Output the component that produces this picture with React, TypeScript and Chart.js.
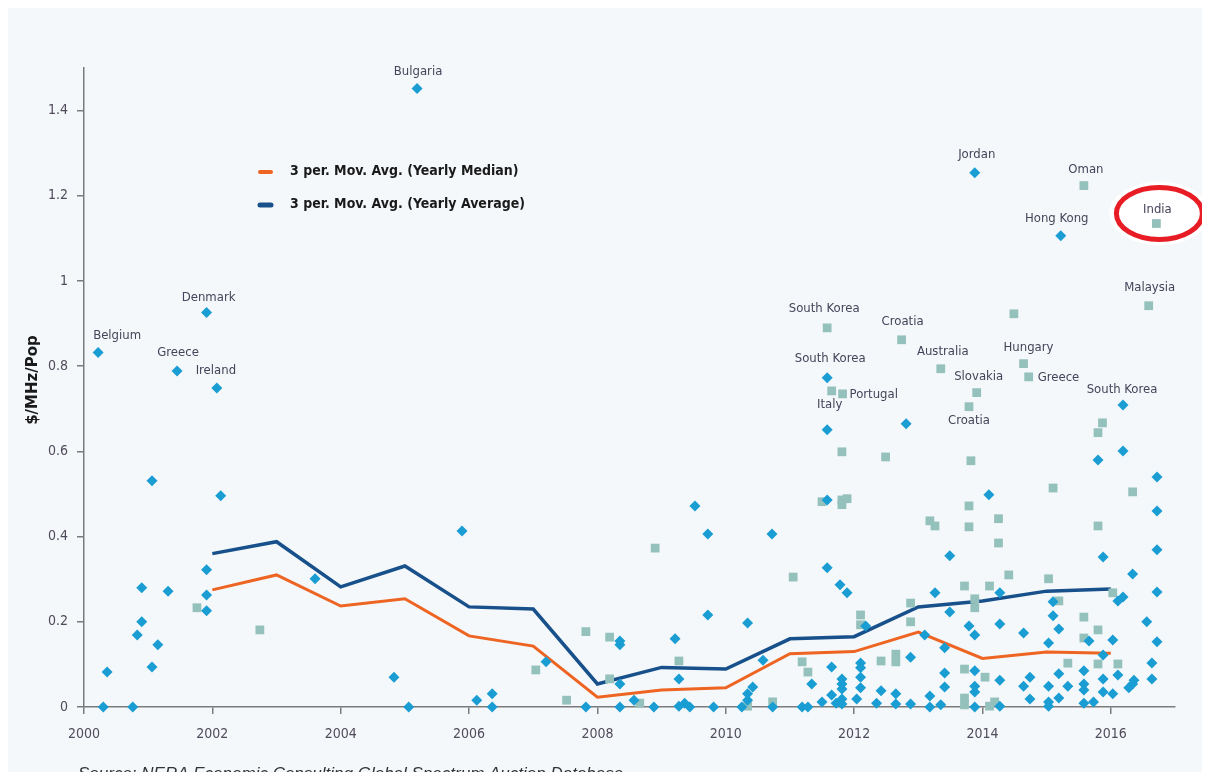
import React, { useEffect, useRef } from 'react';
import { Chart, registerables } from 'chart.js';

Chart.register(...registerables);

// ---------- data ----------
const yearTicks = [2000, 2002, 2004, 2006, 2008, 2010, 2012, 2014, 2016];
const valueTicks = [0, 0.2, 0.4, 0.6, 0.8, 1, 1.2, 1.4];
const valueTickLabels = ['0', '0.2', '0.4', '0.6', '0.8', '1', '1.2', '1.4'];

const lineYears = [2002, 2003, 2004, 2005, 2006, 2007, 2008, 2009, 2010, 2011, 2012, 2013, 2014, 2015, 2016];
const medianMovAvg = [0.275, 0.31, 0.237, 0.254, 0.167, 0.143, 0.023, 0.04, 0.045, 0.125, 0.13, 0.176, 0.114, 0.129, 0.126];
const averageMovAvg = [0.36, 0.388, 0.282, 0.331, 0.235, 0.23, 0.054, 0.093, 0.089, 0.16, 0.165, 0.235, 0.249, 0.272, 0.277];

const auctionDiamonds: [number, number][] = [
  [2000.22, 0.832], [2000.36, 0.082], [2000.3, 0], [2000.76, 0], [2000.83, 0.169], [2000.9, 0.2],
  [2000.9, 0.28], [2001.06, 0.531], [2001.06, 0.094], [2001.15, 0.146], [2001.45, 0.789], [2001.31, 0.272],
  [2001.91, 0.926], [2001.91, 0.322], [2001.91, 0.263], [2001.91, 0.226], [2002.07, 0.749], [2002.13, 0.496],
  [2003.6, 0.301], [2004.83, 0.07], [2005.06, 0], [2005.19, 1.452], [2005.89, 0.413], [2006.12, 0.016],
  [2006.36, 0.031], [2006.36, 0], [2007.2, 0.106], [2007.82, 0], [2008.35, 0.155], [2008.35, 0.146],
  [2008.35, 0.054], [2008.35, 0], [2008.57, 0.016], [2008.88, 0], [2009.21, 0.16], [2009.27, 0.066],
  [2009.27, 0.002], [2009.36, 0.009], [2009.44, 0], [2009.52, 0.472], [2009.72, 0.406], [2009.72, 0.216],
  [2009.81, 0], [2010.34, 0.197], [2010.42, 0.047], [2010.34, 0.031], [2010.34, 0.016], [2010.25, 0],
  [2010.72, 0.406], [2010.58, 0.11], [2010.73, 0], [2011.34, 0.054], [2011.19, 0], [2011.28, 0],
  [2011.58, 0.327], [2011.78, 0.287], [2011.89, 0.268], [2011.65, 0.094], [2011.65, 0.028], [2011.5, 0.012],
  [2011.72, 0.009], [2011.81, 0.066], [2011.81, 0.054], [2011.81, 0.042], [2011.81, 0.019], [2011.81, 0.007],
  [2011.58, 0.651], [2011.58, 0.773], [2011.58, 0.486], [2012.81, 0.665], [2012.18, 0.19], [2012.88, 0.117],
  [2012.1, 0.103], [2012.1, 0.092], [2012.1, 0.07], [2012.1, 0.045], [2012.04, 0.019], [2012.42, 0.038],
  [2012.35, 0.009], [2012.65, 0.031], [2012.65, 0.007], [2012.88, 0.007], [2013.49, 0.355], [2013.26, 0.268],
  [2014.27, 0.268], [2013.49, 0.223], [2013.79, 0.19], [2013.88, 0.169], [2014.27, 0.195], [2014.64, 0.174],
  [2013.1, 0.169], [2013.41, 0.139], [2013.41, 0.08], [2013.41, 0.047], [2013.88, 0.085], [2013.88, 0.049],
  [2013.88, 0.035], [2013.88, 0], [2013.18, 0.026], [2013.18, 0], [2013.35, 0.005], [2014.27, 0.063],
  [2014.27, 0.002], [2014.64, 0.049], [2014.74, 0.07], [2014.74, 0.019], [2014.1, 0.498], [2013.88, 1.254],
  [2015.22, 1.106], [2016.19, 0.709], [2015.8, 0.58], [2016.19, 0.601], [2016.72, 0.54], [2016.72, 0.46],
  [2016.72, 0.369], [2016.72, 0.27], [2016.72, 0.153], [2016.64, 0.103], [2016.64, 0.066], [2016.56, 0.2],
  [2016.34, 0.312], [2015.88, 0.352], [2016.11, 0.249], [2016.19, 0.258], [2016.03, 0.157], [2015.1, 0.247],
  [2015.1, 0.214], [2015.19, 0.183], [2015.03, 0.15], [2015.66, 0.155], [2015.88, 0.122], [2015.19, 0.078],
  [2015.58, 0.085], [2015.88, 0.066], [2016.11, 0.075], [2016.36, 0.063], [2016.34, 0.054], [2016.28, 0.045],
  [2015.03, 0.049], [2015.33, 0.049], [2015.58, 0.054], [2015.58, 0.04], [2015.88, 0.035], [2016.03, 0.031],
  [2015.19, 0.021], [2015.03, 0.012], [2015.03, 0.002], [2015.58, 0.009], [2015.73, 0.012],
];

const auctionSquares: [number, number][] = [
  [2001.76, 0.233], [2002.74, 0.181], [2007.04, 0.087], [2007.52, 0.016], [2007.82, 0.177], [2008.19, 0.164],
  [2008.19, 0.066], [2008.66, 0.009], [2008.9, 0.373], [2009.27, 0.108], [2010.34, 0.002], [2010.73, 0.012],
  [2011.05, 0.305], [2011.19, 0.106], [2011.28, 0.082], [2011.58, 0.89], [2011.65, 0.742], [2011.82, 0.735],
  [2011.81, 0.599], [2011.5, 0.482], [2011.81, 0.486], [2011.89, 0.489], [2011.81, 0.475], [2012.74, 0.862],
  [2012.49, 0.587], [2012.88, 0.244], [2012.88, 0.2], [2012.1, 0.216], [2012.1, 0.193], [2012.42, 0.108],
  [2012.65, 0.124], [2012.65, 0.106], [2013.35, 0.794], [2013.91, 0.738], [2013.79, 0.705], [2013.82, 0.578],
  [2013.79, 0.472], [2013.79, 0.423], [2013.18, 0.437], [2013.26, 0.425], [2014.25, 0.442], [2014.25, 0.385],
  [2014.49, 0.923], [2014.64, 0.806], [2014.72, 0.775], [2013.72, 0.284], [2014.11, 0.284], [2014.41, 0.31],
  [2013.88, 0.254], [2013.88, 0.233], [2013.72, 0.089], [2014.04, 0.07], [2013.72, 0.021], [2013.72, 0.005],
  [2014.11, 0.002], [2014.19, 0.012], [2015.58, 1.224], [2016.71, 1.135], [2016.59, 0.942], [2015.87, 0.667],
  [2015.8, 0.644], [2016.34, 0.505], [2015.8, 0.425], [2015.1, 0.514], [2015.03, 0.301], [2015.19, 0.249],
  [2016.03, 0.268], [2015.8, 0.181], [2015.58, 0.211], [2015.58, 0.162], [2015.8, 0.101], [2016.11, 0.101],
  [2015.33, 0.103],
];

const pointLabelTexts = [
  'Belgium', 'Greece', 'Denmark', 'Ireland', 'Bulgaria', 'South Korea', 'South Korea', 'Italy', 'Portugal',
  'Croatia', 'Australia', 'Slovakia', 'Croatia', 'Hungary', 'Greece', 'South Korea', 'Jordan', 'Oman',
  'Hong Kong', 'India', 'Malaysia',
];
const pointLabelX = [
  2000.22, 2001.45, 2001.91, 2002.07, 2005.19, 2011.58, 2011.58, 2011.65, 2011.82,
  2012.74, 2013.35, 2013.91, 2013.79, 2014.64, 2014.72, 2016.19, 2013.88, 2015.58,
  2015.22, 2016.71, 2016.59,
];
const pointLabelY = [
  0.832, 0.789, 0.926, 0.749, 1.452, 0.89, 0.773, 0.742, 0.735,
  0.862, 0.794, 0.738, 0.705, 0.806, 0.775, 0.709, 1.254, 1.224,
  1.106, 1.135, 0.942,
];

const legendLabels = ['3 per. Mov. Avg. (Yearly Median)', '3 per. Mov. Avg. (Yearly Average)'];
const yAxisTitle = '$/MHz/Pop';
const sourceNote = 'Source: NERA Economic Consulting Global Spectrum Auction Database';
const highlightedLabel = 'India';

// ---------- styles ----------
const ORANGE = '#ee6422';
const NAVY = '#17508a';
const DIAMOND = '#1a9dd3';
const SQUARE = '#95c1bd';
const LABEL_COLOR = '#45445a';
const AXIS_COLOR = '#7b7b7b';
const NARROW = '"Liberation Sans Narrow", "DejaVu Sans Condensed", "Liberation Sans", sans-serif';

// label offsets in px: [dx, dy, align]
const labelPlacement: [number, number, CanvasTextAlign][] = [
  [19, -17, 'center'], [1, -18, 'center'], [2, -15, 'center'], [-1, -17, 'center'], [1, -17, 'center'],
  [-3, -19, 'center'], [3, -19, 'center'], [-2, 14, 'center'], [7, 1, 'left'],
  [1, -18, 'center'], [2, -17, 'center'], [2, -16, 'center'], [0, 14, 'center'], [5, -16, 'center'],
  [9, 1, 'left'], [-1, -15, 'center'], [2, -18, 'center'], [2, -16, 'center'],
  [-4, -17, 'center'], [1, -14, 'center'], [1, -18, 'center'],
];

const decorPlugin = {
  id: 'decor',
  beforeDatasetsDraw(chart: any) {
    const { ctx, scales } = chart;
    const i = pointLabelTexts.indexOf(highlightedLabel);
    const cx = scales.x.getPixelForValue(pointLabelX[i]) + 3;
    const cy = scales.y.getPixelForValue(pointLabelY[i]) - 10;
    ctx.save();
    ctx.fillStyle = '#ffffff';
    ctx.beginPath();
    ctx.ellipse(cx, cy, 50, 32, 0, 0, Math.PI * 2);
    ctx.fill();
    ctx.restore();
  },
  afterDatasetsDraw(chart: any) {
    const { ctx, scales } = chart;
    const xs = scales.x;
    const ys = scales.y;
    ctx.save();
    // country labels
    ctx.font = `13px ${NARROW}`;
    ctx.fillStyle = LABEL_COLOR;
    ctx.textBaseline = 'middle';
    pointLabelTexts.forEach((t, i) => {
      const [dx, dy, align] = labelPlacement[i];
      ctx.textAlign = align;
      ctx.fillText(t, xs.getPixelForValue(pointLabelX[i]) + dx, ys.getPixelForValue(pointLabelY[i]) + dy);
    });
    // red highlight ellipse
    const hi = pointLabelTexts.indexOf(highlightedLabel);
    const hx = xs.getPixelForValue(pointLabelX[hi]) + 3;
    const hy = ys.getPixelForValue(pointLabelY[hi]) - 10;
    ctx.strokeStyle = '#e81c24';
    ctx.lineWidth = 5;
    ctx.beginPath();
    ctx.ellipse(hx, hy, 43, 26, 0, 0, Math.PI * 2);
    ctx.stroke();

    // legend
    const legendColors = [ORANGE, NAVY];
    const legendY = [164, 197];
    legendLabels.forEach((t, i) => {
      ctx.strokeStyle = legendColors[i];
      ctx.lineWidth = i === 0 ? 4 : 5;
      ctx.lineCap = 'round';
      ctx.beginPath();
      ctx.moveTo(252, legendY[i]);
      ctx.lineTo(263, legendY[i]);
      ctx.stroke();
      ctx.fillStyle = '#1a1a1a';
      ctx.font = `bold 14px ${NARROW}`;
      ctx.textAlign = 'left';
      ctx.textBaseline = 'middle';
      ctx.fillText(t, 282, legendY[i] - 1);
    });

    // y axis title
    ctx.save();
    ctx.translate(25, 372);
    ctx.rotate(-Math.PI / 2);
    ctx.font = 'bold 15px "DejaVu Sans", sans-serif';
    ctx.fillStyle = '#1a1a1a';
    ctx.textAlign = 'center';
    ctx.textBaseline = 'middle';
    ctx.fillText(yAxisTitle, 0, 0);
    ctx.restore();

    // source note (cut off by the bottom edge)
    ctx.font = 'italic 17px "Liberation Sans", sans-serif';
    ctx.fillStyle = '#333333';
    ctx.textAlign = 'left';
    ctx.textBaseline = 'alphabetic';
    ctx.fillText(sourceNote, 70, 771);
    ctx.restore();
  },
};

export default function App() {
  const ref = useRef<HTMLCanvasElement>(null);
  useEffect(() => {
    document.body.style.overflow = 'hidden';
    const tickFont = { family: NARROW, size: 14 };
    const chart = new Chart(ref.current as HTMLCanvasElement, {
      type: 'scatter',
      data: {
        datasets: [
          {
            type: 'scatter',
            label: 'Auctions (diamond)',
            data: auctionDiamonds.map(([x, y]) => ({ x, y })),
            pointStyle: 'rectRot',
            pointRadius: 5.5,
            backgroundColor: DIAMOND,
            borderWidth: 0,
            clip: false,
            order: 1,
          } as any,
          {
            type: 'scatter',
            label: 'Auctions (square)',
            data: auctionSquares.map(([x, y]) => ({ x, y })),
            pointStyle: 'rect',
            pointRadius: 6.2,
            backgroundColor: SQUARE,
            borderWidth: 0,
            clip: false,
            order: 1,
          } as any,
          {
            type: 'line',
            label: legendLabels[0],
            data: lineYears.map((x, i) => ({ x, y: medianMovAvg[i] })),
            borderColor: ORANGE,
            borderWidth: 3,
            pointRadius: 0,
            tension: 0,
            fill: false,
            order: 2,
          } as any,
          {
            type: 'line',
            label: legendLabels[1],
            data: lineYears.map((x, i) => ({ x, y: averageMovAvg[i] })),
            borderColor: NAVY,
            borderWidth: 3.5,
            pointRadius: 0,
            tension: 0,
            fill: false,
            order: 2,
          } as any,
        ],
      },
      options: {
        responsive: false,
        animation: false,
        events: [],
        layout: { padding: { top: 60, right: 30, left: 0, bottom: 0 } },
        plugins: {
          legend: { display: false },
          tooltip: { enabled: false },
        },
        scales: {
          x: {
            type: 'linear',
            min: 2000,
            max: 2017,
            afterBuildTicks: (s: any) => {
              s.ticks = yearTicks.map((v) => ({ value: v }));
            },
            afterFit: (s: any) => {
              s.height = 65;
            },
            ticks: {
              font: tickFont,
              color: '#504b5c',
              padding: 12,
              maxRotation: 0,
              autoSkip: false,
              callback: (v: any) => String(v),
            },
            grid: { drawOnChartArea: false, drawTicks: true, tickLength: 7, color: AXIS_COLOR, lineWidth: 1.5 },
            border: { color: AXIS_COLOR, width: 1.5 },
          },
          y: {
            type: 'linear',
            min: 0,
            max: 1.5,
            afterBuildTicks: (s: any) => {
              s.ticks = valueTicks.map((v) => ({ value: v }));
            },
            afterFit: (s: any) => {
              s.width = 76;
            },
            ticks: {
              font: tickFont,
              color: '#504b5c',
              padding: 9,
              autoSkip: false,
              callback: (v: any) => {
                const i = valueTicks.findIndex((t) => Math.abs(t - v) < 1e-6);
                return i >= 0 ? valueTickLabels[i] : '';
              },
            },
            grid: { drawOnChartArea: false, drawTicks: true, tickLength: 7, color: AXIS_COLOR, lineWidth: 1.5 },
            border: { color: AXIS_COLOR, width: 1.5 },
          },
        },
      } as any,
      plugins: [decorPlugin],
    });
    return () => chart.destroy();
  }, []);
  return (
    <div style={{ width: 1197, height: 764, background: '#f4f8fa' }}>
      <canvas ref={ref} width={1197} height={764} style={{ display: 'block' }} />
    </div>
  );
}
